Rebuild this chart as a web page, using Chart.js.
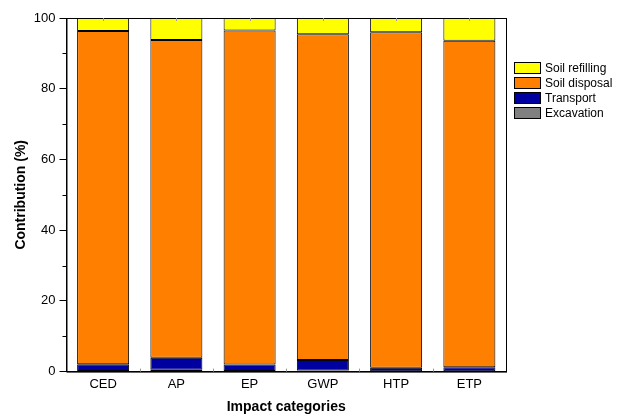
<!DOCTYPE html>
<html>
<head>
<meta charset="utf-8">
<script src="https://cdn.jsdelivr.net/npm/chart.js@4/dist/chart.umd.min.js"></script>
<style>
  html, body { margin: 0; padding: 0; background: #fff; }
  #wrap { width: 617px; height: 416px; position: relative; font-family: "Liberation Sans", Arial, sans-serif; }
  #legend { position: absolute; left: 514px; top: 62px; font-size: 12px; color: #000; }
  #legend div { height: 15px; line-height: 12px; white-space: nowrap; }
  #legend span { display: inline-block; width: 25px; height: 10px; border: 1px solid #000; vertical-align: top; margin-right: 4px; }
</style>
</head>
<body>
<div id="wrap">
  <canvas id="chart" width="617" height="416"></canvas>
  <div id="legend"></div>
</div>
<script>
// data (%)
const categories = ['CED', 'AP', 'EP', 'GWP', 'HTP', 'ETP'];
const excavation = [0.2, 0.5, 0.2, 0.3, 0.1, 0.1];
const transport = [1.9, 3.4, 1.8, 3.0, 1.0, 1.1];
const soilDisposal = [94.2, 89.9, 94.5, 92.1, 94.9, 92.4];
const soilRefilling = [3.7, 6.2, 3.5, 4.6, 4.0, 6.4];
const yTicks = [0, 20, 40, 60, 80, 100];

const FONT = '"Liberation Sans", Arial, sans-serif';

// frame + small tick marks like the origin plot
const framePlugin = {
  id: 'frame',
  afterDraw(chart) {
    const { ctx, chartArea: a, scales } = chart;
    ctx.save();
    ctx.strokeStyle = '#000';
    ctx.lineWidth = 1;
    ctx.strokeRect(a.left + 0.5, a.top + 0.5, a.right - a.left, a.bottom - a.top);
    // minor ticks on the y axis (outward)
    const y = scales.y;
    for (let v = 10; v < 100; v += 20) {
      const py = Math.round(y.getPixelForValue(v)) + 0.5;
      ctx.beginPath();
      ctx.moveTo(a.left - 4, py);
      ctx.lineTo(a.left, py);
      ctx.stroke();
    }
    // faint inward ticks on top and bottom edges
    const x = scales.x;
    ctx.strokeStyle = '#999';
    categories.forEach((c, i) => {
      const px = Math.round(x.getPixelForValue(i)) + 0.5;
      ctx.beginPath();
      ctx.moveTo(px, a.top);
      ctx.lineTo(px, a.top + 3);
      ctx.stroke();
      if (i > 0) {
        const bx = Math.round((x.getPixelForValue(i) + x.getPixelForValue(i - 1)) / 2) + 0.5;
        ctx.beginPath();
        ctx.moveTo(bx, a.bottom);
        ctx.lineTo(bx, a.bottom - 3);
        ctx.stroke();
      }
    });
    ctx.restore();
  }
};

const ctx = document.getElementById('chart').getContext('2d');
const myChart = new Chart(ctx, {
  type: 'bar',
  data: {
    labels: categories,
    datasets: [
      { label: 'Excavation', data: excavation, backgroundColor: '#808080' },
      { label: 'Transport', data: transport, backgroundColor: '#0000A0' },
      { label: 'Soil disposal', data: soilDisposal, backgroundColor: '#FF8000' },
      { label: 'Soil refilling', data: soilRefilling, backgroundColor: '#FFFF00' }
    ].map(d => Object.assign(d, {
      borderColor: '#000',
      borderWidth: 1,
      borderSkipped: false,
      categoryPercentage: 1,
      barPercentage: 0.71
    }))
  },
  options: {
    responsive: false,
    animation: false,
    layout: { padding: { top: 18, left: 10, right: 111, bottom: 0 } },
    plugins: {
      tooltip: { enabled: false },
      legend: { display: false }
    },
    scales: {
      x: {
        stacked: true,
        grid: { display: false, drawTicks: false, tickLength: 0 },
        border: { color: '#000' },
        ticks: { color: '#000', font: { family: FONT, size: 13 }, padding: 5 },
        title: { display: true, text: 'Impact categories', color: '#000', font: { family: FONT, size: 14, weight: 'bold' }, padding: { top: 2, bottom: 0 } }
      },
      y: {
        stacked: true,
        min: 0,
        max: 100,
        afterBuildTicks: axis => { axis.ticks = yTicks.map(v => ({ value: v })); },
        grid: { drawOnChartArea: false, drawTicks: true, tickLength: 7, color: '#000' },
        border: { color: '#000' },
        ticks: { color: '#000', font: { family: FONT, size: 13 }, padding: 4 },
        title: { display: true, text: 'Contribution (%)', color: '#000', font: { family: FONT, size: 14, weight: 'bold' }, padding: { top: 3, bottom: 0 } }
      }
    }
  },
  plugins: [framePlugin]
});

// legend, top entry first like the original
const legendItems = myChart.data.datasets.slice().reverse();
document.getElementById('legend').innerHTML = legendItems
  .map(d => `<div><span style="background:${d.backgroundColor}"></span>${d.label}</div>`)
  .join('');
</script>
</body>
</html>
